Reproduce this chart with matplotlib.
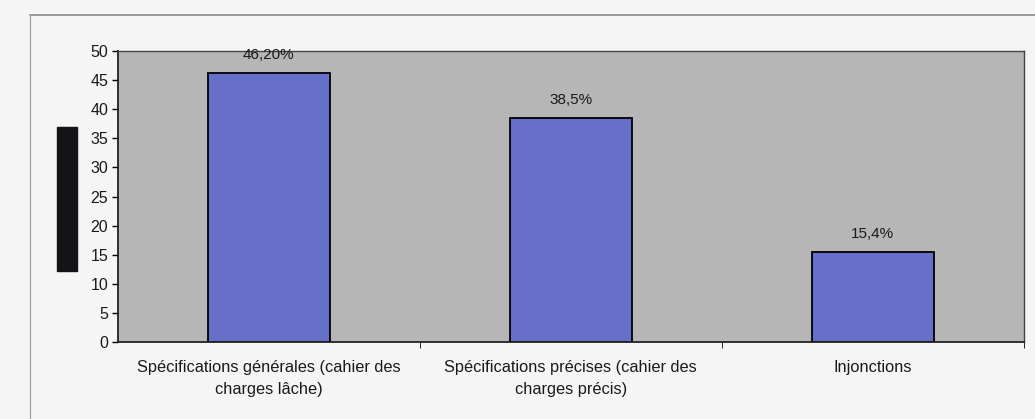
import matplotlib.pyplot as plt
from matplotlib.lines import Line2D
from matplotlib.patches import Rectangle

categories = ["Spécifications générales (cahier des\ncharges lâche)",
              "Spécifications précises (cahier des\ncharges précis)",
              "Injonctions"]
values = [46.2, 38.5, 15.4]
value_labels = ["46,20%", "38,5%", "15,4%"]
yticks = [0, 5, 10, 15, 20, 25, 30, 35, 40, 45, 50]

plt.rcParams['font.family'] = ['Liberation Sans', 'DejaVu Sans']

fig = plt.figure(figsize=(10.35, 4.19), dpi=100, facecolor="#f5f5f5")
ax = fig.add_axes([0.114, 0.184, 0.875, 0.694])
ax.set_facecolor("#b6b6b6")

x = range(len(values))
ax.bar(x, values, width=0.405, color="#6670c8", edgecolor="black", linewidth=1.3, zorder=2)

for xi, v, lab in zip(x, values, value_labels):
    ax.annotate(lab, (xi, v), xytext=(0, 8), textcoords="offset points",
                ha="center", va="bottom", fontsize=11, color="#1a1a1a")

ax.set_xlim(-0.5, 2.5)
ax.set_ylim(0, 50)
ax.set_yticks(yticks)
ax.set_yticklabels([str(t) for t in yticks], fontsize=11.5, color="#1a1a1a")
ax.set_xticks(list(x))
ax.set_xticklabels(categories, fontsize=11.8, color="#1a1a1a", linespacing=1.55)
ax.tick_params(axis="x", length=0, pad=13)
ax.tick_params(axis="y", length=4, direction="out", width=1, pad=3)
# small ticks between the categories
ax.set_xticks([0.5, 1.5, 2.5], minor=True)
ax.tick_params(axis="x", which="minor", length=4, direction="out")

for side in ["top", "right"]:
    ax.spines[side].set_color("#444444")
    ax.spines[side].set_linewidth(1.0)
for side in ["left", "bottom"]:
    ax.spines[side].set_color("#222222")
    ax.spines[side].set_linewidth(1.3)

# frame of the chart box
fig.add_artist(Line2D([30 / 1035, 1.0], [1 - 15 / 419, 1 - 15 / 419],
                      transform=fig.transFigure, color="#888888", lw=1.2))
fig.add_artist(Line2D([30 / 1035, 30 / 1035], [0, 1 - 15 / 419],
                      transform=fig.transFigure, color="#aaaaaa", lw=1.0))

# dark block beside the value axis
fig.add_artist(Rectangle((57 / 1035, 1 - 271 / 419), 20 / 1035, 144 / 419,
                         transform=fig.transFigure, color="#141418"))

plt.savefig("out.png", dpi=100, facecolor=fig.get_facecolor())
